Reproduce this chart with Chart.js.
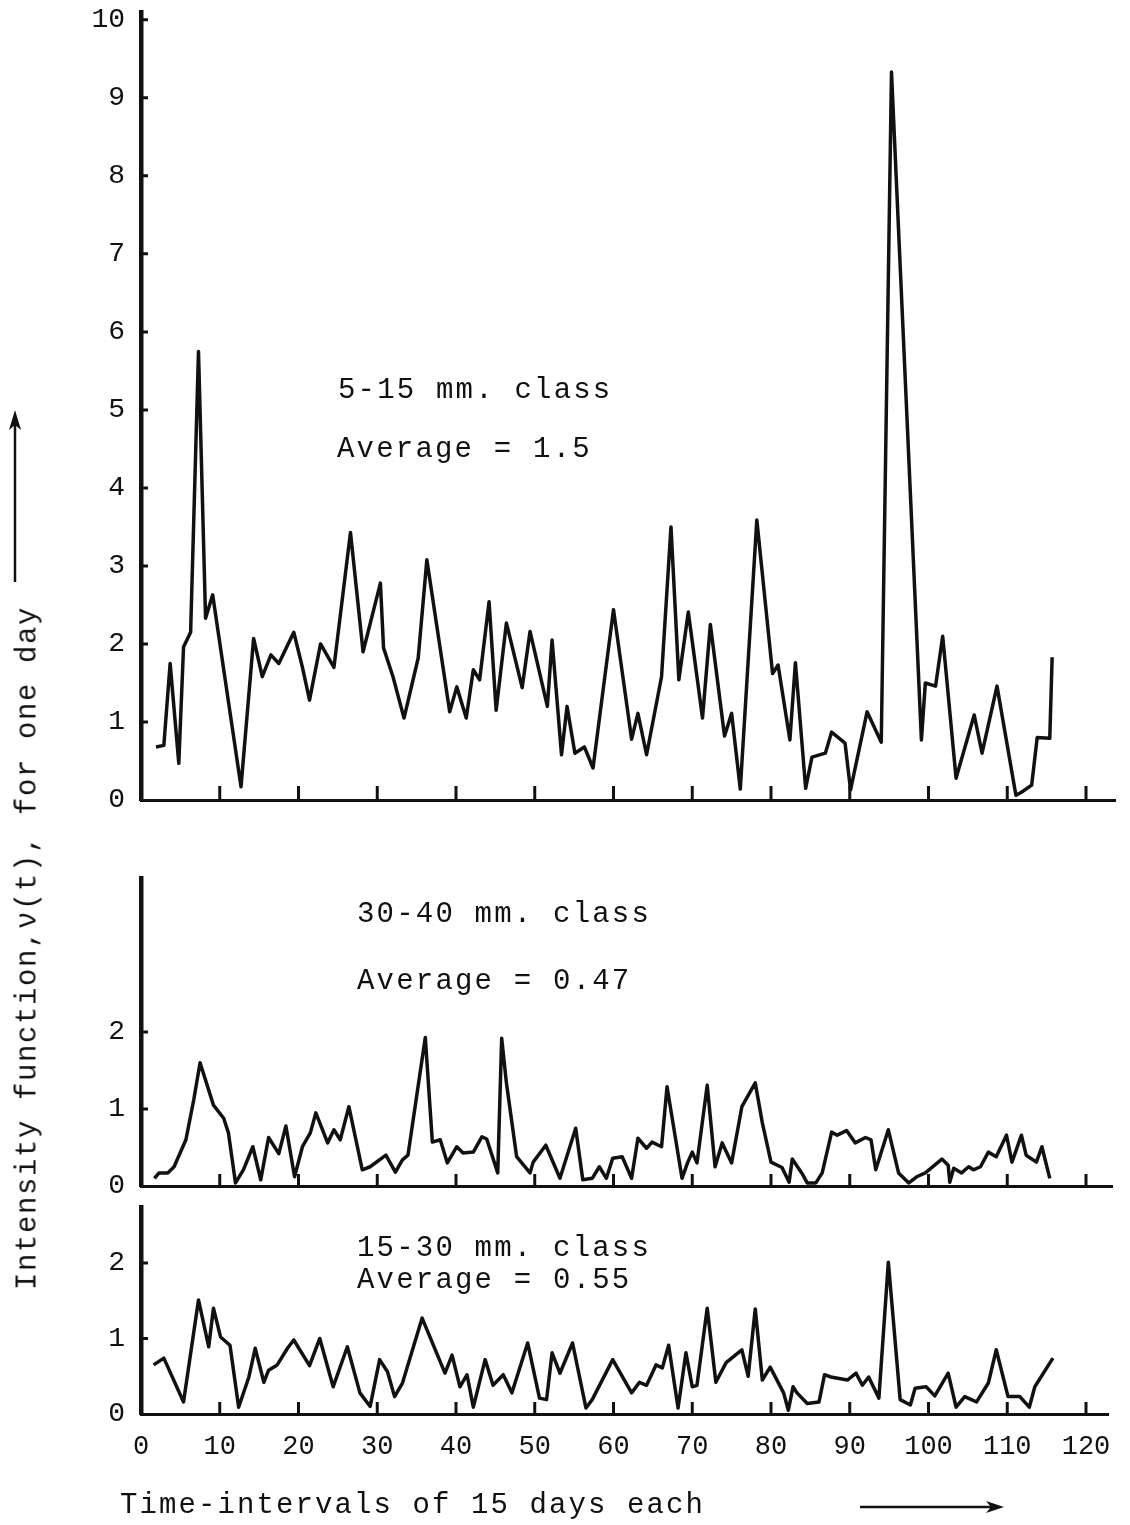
<!DOCTYPE html>
<html>
<head>
<meta charset="utf-8">
<script src="https://cdn.jsdelivr.net/npm/chart.js@4.4.1/dist/chart.umd.min.js"></script>
<style>
html,body{margin:0;padding:0;background:#fff;}
body{width:1130px;height:1525px;position:relative;overflow:hidden;}
canvas{position:absolute;left:0;}
.t{position:absolute;font-family:"Liberation Mono",monospace;font-size:29px;letter-spacing:2.2px;color:#111;white-space:nowrap;line-height:29px;}
</style>
</head>
<body>
<svg style="position:absolute;left:0;top:0" width="1130" height="1525">
  <line x1="15" y1="582" x2="15" y2="424" stroke="#111" stroke-width="2.5"/>
  <path d="M15,410 L9,430 L15,425 L21,430 Z" fill="#111"/>
  <line x1="860" y1="1507" x2="992" y2="1507" stroke="#111" stroke-width="2.5"/>
  <path d="M1004,1507 L986,1501 L991,1507 L986,1513 Z" fill="#111"/>
</svg>
<canvas id="c1" width="1130" height="830" style="top:0px"></canvas>
<canvas id="c2" width="1130" height="370" style="top:850px"></canvas>
<canvas id="c3" width="1130" height="300" style="top:1195px"></canvas>

<div class="t" style="left:338px;top:376px">5-15 mm. class</div>
<div class="t" style="left:337px;top:435px">Average = 1.5</div>
<div class="t" style="left:357px;top:900px">30-40 mm. class</div>
<div class="t" style="left:357px;top:967px">Average = 0.47</div>
<div class="t" style="left:357px;top:1234px">15-30 mm. class</div>
<div class="t" style="left:357px;top:1266px">Average = 0.55</div>
<div class="t" style="left:120px;top:1491px;letter-spacing:2.1px">Time-intervals of 15 days each</div>
<div class="t" style="left:28px;top:948px;letter-spacing:1.6px;transform:translate(-50%,-50%) rotate(-90deg);">Intensity function,ν(t), for one day</div>

<script>
// ---- tick labels ----
const xTickValues = [0, 10, 20, 30, 40, 50, 60, 70, 80, 90, 100, 110, 120];
const xTickLabels = ['0', '10', '20', '30', '40', '50', '60', '70', '80', '90', '100', '110', '120'];
const yTicksTop = [0, 1, 2, 3, 4, 5, 6, 7, 8, 9, 10];
const yLabelsTop = ['0', '1', '2', '3', '4', '5', '6', '7', '8', '9', '10'];
const yTicksSmall = [0, 1, 2];
const yLabelsSmall = ['0', '1', '2'];

// ---- 5-15 mm. class ----
const t515 = [1.9, 2.9, 3.7, 4.8, 5.4, 6.3, 7.3, 8.2, 9.1, 12.7, 14.3, 15.4, 16.5, 17.5, 19.4, 20.5, 21.4, 22.8, 24.5, 26.6,
  28.2, 30.4, 30.8, 32.0, 33.4, 35.2, 36.3, 39.2, 40.1, 41.3, 42.2, 43.0, 44.2, 45.1, 46.4, 48.4, 49.4, 51.6, 52.2, 53.4,
  54.1, 55.1, 56.3, 57.4, 60.0, 62.3, 63.1, 64.2, 66.1, 67.3, 68.3, 69.5, 71.3, 72.3, 74.1, 75.0, 76.1, 78.2, 80.2, 80.9,
  82.4, 83.1, 84.4, 85.2, 86.9, 87.7, 89.4, 90.1, 92.2, 94.0, 95.3, 99.1, 99.6, 100.9, 101.8, 103.5, 105.8, 106.8, 108.7, 111.1,
  111.8, 113.1, 113.8, 115.4, 115.7];
const v515 = [0.68, 0.70, 1.75, 0.47, 1.96, 2.15, 5.75, 2.33, 2.63, 0.17, 2.07, 1.58, 1.86, 1.75, 2.15, 1.70, 1.28, 2.00, 1.70, 3.43,
  1.90, 2.78, 1.95, 1.58, 1.05, 1.82, 3.08, 1.13, 1.45, 1.05, 1.67, 1.54, 2.54, 1.15, 2.27, 1.44, 2.16, 1.20, 2.05, 0.58,
  1.20, 0.60, 0.68, 0.41, 2.44, 0.78, 1.11, 0.58, 1.58, 3.50, 1.54, 2.41, 1.05, 2.25, 0.82, 1.11, 0.14, 3.59, 1.62, 1.73,
  0.77, 1.76, 0.15, 0.55, 0.60, 0.87, 0.73, 0.13, 1.13, 0.74, 9.33, 0.77, 1.50, 1.46, 2.10, 0.28, 1.09, 0.60, 1.46, 0.06,
  0.10, 0.19, 0.80, 0.79, 1.83];

// ---- 30-40 mm. class ----
const t3040 = [1.7, 2.3, 3.4, 4.2, 5.7, 6.7, 7.5, 9.2, 10.5, 11.1, 12.0, 13.0, 14.2, 15.2, 16.2, 17.5, 18.4, 19.5, 20.5, 21.5,
  22.2, 23.7, 24.5, 25.3, 26.4, 28.1, 29.1, 31.1, 32.3, 33.2, 33.9, 36.1, 37.0, 38.0, 38.9, 40.1, 40.9, 42.2, 43.3, 43.9,
  45.3, 45.8, 46.4, 47.7, 49.4, 49.8, 51.4, 53.2, 55.2, 56.1, 57.3, 58.2, 59.1, 59.9, 61.1, 62.3, 63.1, 64.2, 64.9, 66.1,
  66.8, 68.7, 69.4, 70.0, 70.6, 71.9, 72.9, 73.8, 75.0, 76.3, 78.0, 78.9, 80.0, 81.4, 82.3, 82.7, 83.9, 84.6, 85.7, 86.5,
  87.7, 88.4, 89.6, 90.7, 92.0, 92.7, 93.3, 94.9, 96.2, 97.5, 98.5, 99.6, 101.7, 102.5, 102.7, 103.2, 104.2, 105.1, 105.7, 106.6,
  107.6, 108.6, 109.9, 110.6, 111.8, 112.4, 113.7, 114.4, 115.4];
const v3040 = [0.10, 0.17, 0.17, 0.25, 0.60, 1.12, 1.60, 1.05, 0.88, 0.69, 0.04, 0.21, 0.51, 0.08, 0.63, 0.42, 0.78, 0.12, 0.51, 0.69,
  0.95, 0.56, 0.73, 0.60, 1.03, 0.21, 0.25, 0.40, 0.18, 0.34, 0.40, 1.93, 0.57, 0.60, 0.30, 0.51, 0.43, 0.44, 0.64, 0.61,
  0.17, 1.92, 1.34, 0.38, 0.17, 0.31, 0.53, 0.10, 0.75, 0.08, 0.10, 0.25, 0.10, 0.36, 0.38, 0.10, 0.62, 0.49, 0.57, 0.51,
  1.29, 0.10, 0.30, 0.44, 0.30, 1.31, 0.25, 0.56, 0.30, 1.03, 1.34, 0.82, 0.31, 0.24, 0.05, 0.35, 0.17, 0.04, 0.04, 0.17,
  0.70, 0.66, 0.72, 0.56, 0.63, 0.60, 0.21, 0.73, 0.17, 0.04, 0.12, 0.17, 0.35, 0.27, 0.05, 0.23, 0.17, 0.25, 0.21, 0.25,
  0.44, 0.38, 0.66, 0.31, 0.66, 0.40, 0.31, 0.51, 0.10];

// ---- 15-30 mm. class ----
const t1530 = [1.6, 2.9, 5.4, 7.3, 8.6, 9.2, 10.1, 11.3, 12.4, 13.7, 14.5, 15.6, 16.2, 17.3, 18.6, 19.4, 21.4, 22.7, 24.4, 26.2,
  27.8, 29.1, 30.3, 31.3, 32.2, 33.2, 35.7, 38.6, 39.5, 40.5, 41.4, 42.2, 43.7, 44.7, 46.0, 47.1, 49.1, 50.6, 51.5, 52.2,
  53.2, 54.8, 56.5, 57.3, 59.9, 62.3, 63.3, 64.2, 65.4, 66.2, 67.0, 68.2, 69.2, 70.0, 70.6, 71.9, 73.0, 74.3, 76.3, 77.1,
  78.0, 78.9, 79.9, 81.6, 82.2, 82.8, 83.3, 84.6, 86.1, 86.8, 87.6, 89.7, 90.8, 91.6, 92.4, 93.7, 94.9, 96.4, 97.7, 98.3,
  99.7, 100.8, 102.5, 103.5, 104.6, 106.1, 107.6, 108.6, 110.1, 111.6, 112.8, 113.5, 115.8];
const v1530 = [0.65, 0.74, 0.16, 1.51, 0.89, 1.40, 1.02, 0.91, 0.09, 0.49, 0.87, 0.42, 0.58, 0.65, 0.87, 0.98, 0.64, 1.00, 0.36, 0.89,
  0.28, 0.10, 0.72, 0.56, 0.23, 0.41, 1.27, 0.54, 0.78, 0.36, 0.52, 0.09, 0.72, 0.38, 0.52, 0.28, 0.94, 0.21, 0.19, 0.81,
  0.54, 0.94, 0.08, 0.19, 0.72, 0.28, 0.42, 0.38, 0.65, 0.61, 0.91, 0.08, 0.81, 0.36, 0.38, 1.40, 0.42, 0.68, 0.85, 0.50,
  1.39, 0.45, 0.62, 0.28, 0.05, 0.36, 0.28, 0.14, 0.16, 0.52, 0.49, 0.45, 0.54, 0.38, 0.49, 0.21, 2.01, 0.19, 0.12, 0.34,
  0.36, 0.24, 0.54, 0.09, 0.23, 0.16, 0.41, 0.85, 0.23, 0.23, 0.09, 0.36, 0.74];

const FONT = 'Liberation Mono';
const INK = '#111';

const innerTicks = {
  id: 'innerTicks',
  afterDatasetsDraw(chart, args, o) {
    const {ctx, chartArea, scales} = chart;
    const x = scales.x, y = scales.y;
    ctx.save();
    ctx.strokeStyle = INK;
    ctx.lineWidth = 3;
    ctx.beginPath();
    xTickValues.forEach(v => {
      if (v === 0) return;
      const px = x.getPixelForValue(v);
      ctx.moveTo(px, chartArea.bottom);
      ctx.lineTo(px, chartArea.bottom - o.xLen);
    });
    o.yTicks.forEach(v => {
      if (v === 0) return;
      const py = y.getPixelForValue(v);
      ctx.moveTo(chartArea.left, py);
      ctx.lineTo(chartArea.left + o.yLen, py);
    });
    ctx.stroke();
    ctx.restore();
  }
};

function panel(id, ts, vs, cfg) {
  const data = ts.map((t, i) => ({x: t, y: vs[i]}));
  return new Chart(document.getElementById(id), {
    type: 'line',
    data: {datasets: [{data, borderColor: INK, borderWidth: 3.5, pointRadius: 0, tension: 0, fill: false, borderJoinStyle: 'round'}]},
    options: {
      responsive: false, animation: false, devicePixelRatio: 1,
      layout: {padding: cfg.pad},
      plugins: {legend: {display: false}, tooltip: {enabled: false},
        innerTicks: {xLen: cfg.xLen, yLen: 7, yTicks: cfg.yTicks}},
      scales: {
        x: {
          type: 'linear', min: 0, max: cfg.xMax,
          grid: {display: false, drawTicks: false},
          border: {display: true, color: INK, width: 3},
          afterBuildTicks: s => { s.ticks = xTickValues.map(v => ({value: v})); },
          ticks: {display: cfg.xLabels, autoSkip: false, maxRotation: 0, minRotation: 0, padding: 17,
            font: {family: FONT, size: 27}, color: INK, callback: (v, i) => xTickLabels[i]},
          afterFit: s => { s.height = cfg.xH; s.paddingLeft = 0; s.paddingRight = 0; s.paddingTop = 0; s.paddingBottom = 0; }
        },
        y: {
          type: 'linear', min: 0, max: cfg.yMax,
          grid: {display: false, drawTicks: false},
          border: {display: true, color: INK, width: 4.5},
          afterBuildTicks: s => { s.ticks = cfg.yTicks.map(v => ({value: v})); },
          ticks: {padding: 16, autoSkip: false, font: {family: FONT, size: 28}, color: INK,
            callback: (v, i) => cfg.yLabels[i]},
          afterFit: s => { s.width = 141; s.paddingLeft = 0; s.paddingRight = 0; s.paddingTop = 0; s.paddingBottom = 0; }
        }
      }
    },
    plugins: [innerTicks]
  });
}

// top: chart area 141..1115 x 12..800 (canvas top 0)
panel('c1', t515, v515, {pad: {left: 0, right: 15, top: 12, bottom: 30}, xH: 0, xMax: (1115 - 141) / 7.875,
  yMax: 10.1, yTicks: yTicksTop, yLabels: yLabelsTop, xLabels: false, xLen: 14});
// middle: chart area 141..1112 x 878..1186 (canvas top 850)
panel('c2', t3040, v3040, {pad: {left: 0, right: 18, top: 28, bottom: 34}, xH: 0, xMax: (1112 - 141) / 7.875,
  yMax: 4.0, yTicks: yTicksSmall, yLabels: yLabelsSmall, xLabels: false, xLen: 12});
// bottom: chart area 141..1108 x 1207..1414 (canvas top 1195)
panel('c3', t1530, v1530, {pad: {left: 0, right: 22, top: 12, bottom: 21}, xH: 60, xMax: (1108 - 141) / 7.875,
  yMax: 2.74, yTicks: yTicksSmall, yLabels: yLabelsSmall, xLabels: true, xLen: 12});
</script>
</body>
</html>
